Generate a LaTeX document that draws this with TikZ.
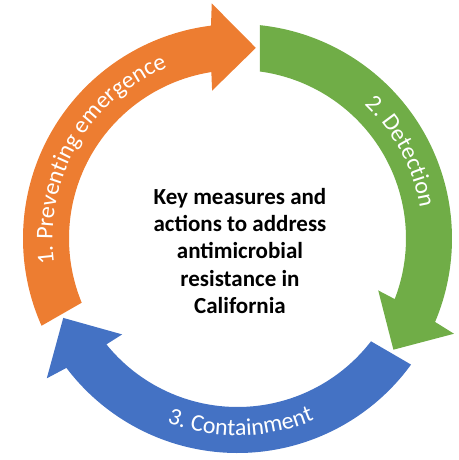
\documentclass[tikz,border=0pt]{standalone}
\usepackage{fontspec}
\setmainfont{Carlito}
\usepackage{tikz}
\usetikzlibrary{decorations.text}
\definecolor{cycorange}{HTML}{ED7D31}
\definecolor{cycgreen}{HTML}{70AD47}
\definecolor{cycblue}{HTML}{4472C4}
\newcommand{\arcfont}{\fontsize{24}{28}\selectfont}

\begin{document}
\begin{tikzpicture}[x=1pt, y=1pt,
    band/.style={fill=#1, draw=none},
    arclabel/.style={decorate, decoration={text along path, text align=center,
      text color=white, text={|\arcfont|#1}}}]
  \useasboundingbox (-237.5,-221.5) rectangle (220.5,238.5);
  % three arrow bands, clockwise
  \fill[band=cycgreen] (84:214.5) arc[start angle=84, end angle=-22.9, radius=214.5]
    -- (-23.75:236.5) -- (-35.5:191.5) -- (-20.25:150)
    -- (-21.07:168.5) arc[start angle=-21.07, end angle=82.4, radius=168.5] -- cycle;
  \fill[band=cycorange] (204:214.5) arc[start angle=204, end angle=97.1, radius=214.5]
    -- (96.25:236.5) -- (84.5:191.5) -- (99.75:150)
    -- (98.93:168.5) arc[start angle=98.93, end angle=202.4, radius=168.5] -- cycle;
  \fill[band=cycblue] (324:214.5) arc[start angle=324, end angle=217.1, radius=214.5]
    -- (216.25:236.5) -- (204.5:191.5) -- (219.75:150)
    -- (218.93:168.5) arc[start angle=218.93, end angle=322.4, radius=168.5] -- cycle;
  % labels on the bands
  \path[arclabel={1. Preventing emergence}] (203:185) arc[start angle=203, end angle=97, radius=185];
  \path[arclabel={2. Detection}] (80:185) arc[start angle=80, end angle=-24, radius=185];
  \path[arclabel={3. Containment}] (219:197) arc[start angle=219, end angle=323, radius=197];
  % centre text
  \node[align=center, font=\bfseries\fontsize{23}{27.3}\selectfont] (centre) at (2.5,-12.5)
    {Key measures and\\actions to address\\antimicrobial\\resistance in\\California};
\end{tikzpicture}
\end{document}
